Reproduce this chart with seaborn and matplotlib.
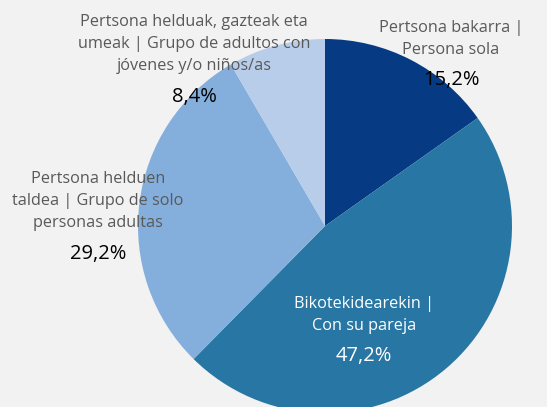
import matplotlib
matplotlib.use("Agg")
import matplotlib.pyplot as plt
import seaborn as sns

# data
categories = [
    "Pertsona bakarra |\nPersona sola",
    "Bikotekidearekin |\nCon su pareja",
    "Pertsona helduen\ntaldea | Grupo de solo\npersonas adultas",
    "Pertsona helduak, gazteak eta\numeak | Grupo de adultos con\njóvenes y/o niños/as",
]
shares = [15.2, 47.2, 29.2, 8.4]
colors = ["#063a82", "#2776a4", "#84afdc", "#b8cde9"]

# layout: label block centre (x, y) and percentage centre y, in pixels
label_px = [(451, 39, 80), (364, 315, 356), (98, 201, 254), (194, 44, 97)]
label_colors = ["#595959", "white", "#595959", "#595959"]
pct_colors = ["black", "white", "black", "black"]

sns.set_theme(style="white")
plt.rcParams["font.family"] = ["Open Sans", "DejaVu Sans"]

W, H = 547, 407
fig = plt.figure(figsize=(W / 100, H / 100), dpi=100, facecolor="#f2f2f2")

cx, cy, r = 325, 226, 187
ax = fig.add_axes([(cx - r) / W, (H - cy - r) / H, 2 * r / W, 2 * r / H])
ax.set_facecolor("none")

wedges, _ = ax.pie(shares, colors=colors, startangle=90, counterclock=False,
                   radius=1, wedgeprops=dict(linewidth=0))
for w in wedges:
    w.set_clip_on(False)
ax.set_xlim(-1, 1)
ax.set_ylim(-1, 1)
ax.set_aspect("equal")
ax.axis("off")


def to_pie(px, py):
    return (px - cx) / r, (cy - py) / r


for cat, val, (px, py, ppy), lc, pc in zip(categories, shares, label_px,
                                          label_colors, pct_colors):
    x, y = to_pie(px, py)
    ax.text(x, y, cat, ha="center", va="center", fontsize=11.7, color=lc,
            linespacing=1.5, clip_on=False)
    x, y = to_pie(px, ppy)
    ax.text(x, y, f"{val:.1f}%".replace(".", ","), ha="center",
            va="center", fontsize=14.5, color=pc, clip_on=False)

fig.savefig("out.png", dpi=100, facecolor=fig.get_facecolor())
